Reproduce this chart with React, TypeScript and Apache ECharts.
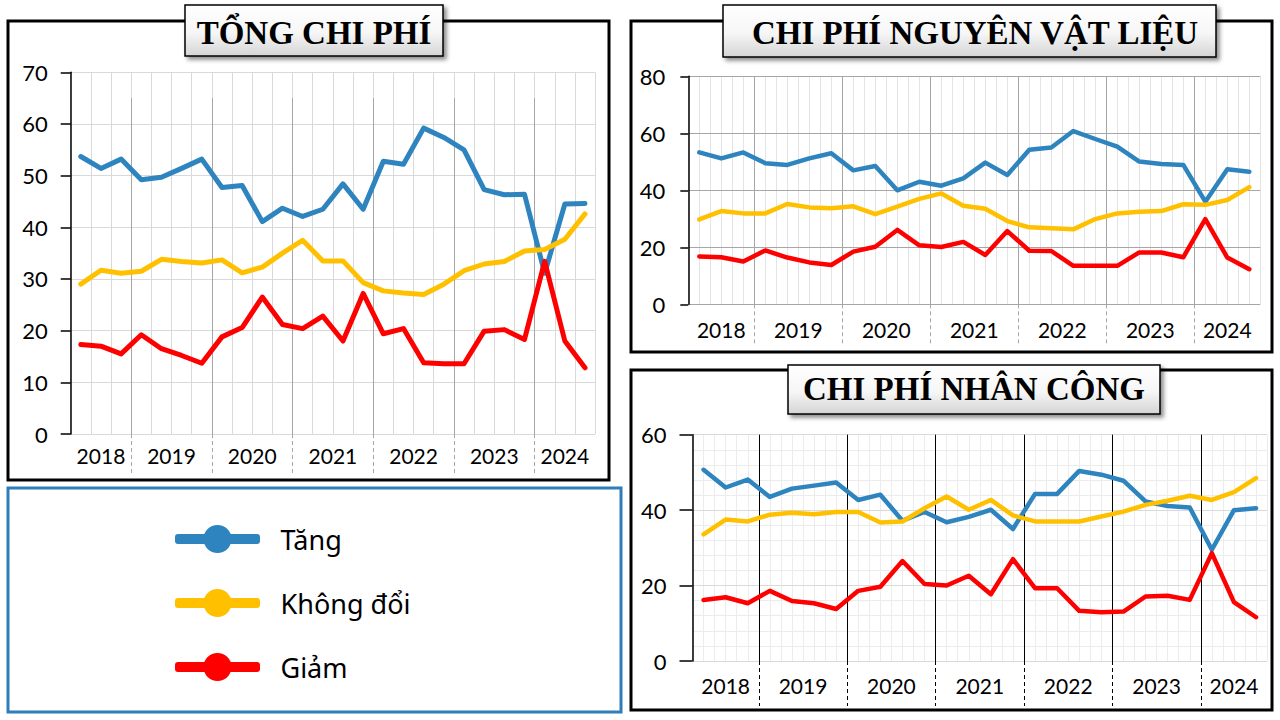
import React, { useEffect, useRef } from 'react';
import * as echarts from 'echarts';

const quarters = [
    'Q2/2018', 'Q3/2018', 'Q4/2018',
    'Q1/2019', 'Q2/2019', 'Q3/2019', 'Q4/2019',
    'Q1/2020', 'Q2/2020', 'Q3/2020', 'Q4/2020',
    'Q1/2021', 'Q2/2021', 'Q3/2021', 'Q4/2021',
    'Q1/2022', 'Q2/2022', 'Q3/2022', 'Q4/2022',
    'Q1/2023', 'Q2/2023', 'Q3/2023', 'Q4/2023',
    'Q1/2024', 'Q2/2024', 'Q3/2024'
];
const years = ['2018', '2019', '2020', '2021', '2022', '2023', '2024'];
const quartersPerYear = [3, 4, 4, 4, 4, 4, 3];
const seriesNames = ['Tăng', 'Không đổi', 'Giảm'];

// Tổng chi phí (%)
const tongTang = [53.7, 51.4, 53.2, 49.2, 49.7, 51.4, 53.2, 47.7, 48.1, 41.1, 43.7, 42.1, 43.5, 48.4, 43.5, 52.8, 52.2, 59.2, 57.4, 55.0, 47.3, 46.3, 46.4, 31.1, 44.5, 44.6];
const tongKhongDoi = [29.0, 31.7, 31.1, 31.5, 33.8, 33.4, 33.1, 33.7, 31.2, 32.3, 35.0, 37.5, 33.5, 33.5, 29.3, 27.7, 27.3, 27.0, 29.0, 31.6, 32.9, 33.4, 35.4, 35.7, 37.7, 42.6];
const tongGiam = [17.3, 17.0, 15.5, 19.2, 16.5, 15.2, 13.7, 18.8, 20.6, 26.5, 21.2, 20.4, 22.8, 18.0, 27.2, 19.4, 20.4, 13.8, 13.6, 13.6, 19.9, 20.2, 18.3, 33.4, 18.0, 12.8];

// Chi phí nguyên vật liệu (%)
const nvlTang = [53.3, 51.2, 53.3, 49.5, 48.9, 51.2, 53.0, 47.0, 48.5, 40.0, 43.0, 41.6, 44.2, 49.7, 45.4, 54.2, 55.0, 60.8, 58.0, 55.3, 50.1, 49.2, 48.9, 36.0, 47.4, 46.5];
const nvlKhongDoi = [29.8, 32.7, 31.9, 31.9, 35.2, 34.0, 33.7, 34.4, 31.6, 34.3, 37.0, 38.9, 34.6, 33.5, 29.2, 27.0, 26.7, 26.3, 29.9, 31.9, 32.5, 32.7, 35.1, 34.9, 36.6, 41.1];
const nvlGiam = [16.8, 16.5, 15.0, 18.9, 16.4, 14.7, 13.8, 18.5, 20.2, 26.1, 20.7, 20.1, 21.9, 17.3, 25.7, 18.8, 18.7, 13.5, 13.5, 13.5, 18.2, 18.2, 16.5, 29.9, 16.4, 12.3];

// Chi phí nhân công (%)
const ncTang = [50.7, 46.0, 48.1, 43.5, 45.7, 46.5, 47.3, 42.7, 44.1, 37.2, 39.5, 36.8, 38.2, 40.1, 35.0, 44.3, 44.3, 50.4, 49.4, 47.8, 42.3, 41.1, 40.7, 29.5, 40.0, 40.5];
const ncKhongDoi = [33.6, 37.5, 37.0, 38.8, 39.3, 38.9, 39.5, 39.5, 36.7, 37.0, 40.5, 43.6, 40.1, 42.7, 38.6, 37.0, 37.0, 37.0, 38.3, 39.6, 41.4, 42.5, 43.8, 42.7, 44.8, 48.5];
const ncGiam = [16.2, 16.9, 15.3, 18.6, 15.9, 15.3, 13.8, 18.6, 19.7, 26.5, 20.4, 20.0, 22.6, 17.7, 27.0, 19.3, 19.3, 13.3, 12.9, 13.1, 17.1, 17.3, 16.2, 28.6, 15.6, 11.6];

const colors = ['#2E84BE', '#FFC000', '#FF0000'];

// year boundaries / centres in "quarter units" (0..26)
const yearEdges: number[] = [];
const yearCenters: number[] = [];
let acc = 0;
quartersPerYear.forEach((n, i) => {
    yearCenters.push(acc + n / 2);
    acc += n;
    if (i < quartersPerYear.length - 1) yearEdges.push(acc);
});
const total = acc;

const panels = [
    {
        title: 'TỔNG CHI PHÍ',
        data: [tongTang, tongKhongDoi, tongGiam],
        box: { x: 8, y: 21, width: 601, height: 459 },
        titleBox: { x: 185, y: 5, width: 258, height: 51 },
        titleCenter: [314, 33],
        grid: { left: 70.7, top: 72.3, width: 524.4, height: 361.7 },
        yMax: 70, yStep: 10, yMinor: false,
        vStep: 1, vColor: '#d9d9d9', hColor: '#d9d9d9',
        sepColor: '#a6a6a6', sepInside: false, sepTop: 65, sepLen: 41,
        xLabelMargin: 11, yLabelMargin: 23, yTickLen: 10, lineWidth: 5
    },
    {
        title: 'CHI PHÍ NGUYÊN VẬT LIỆU',
        data: [nvlTang, nvlKhongDoi, nvlGiam],
        box: { x: 631, y: 21, width: 641, height: 331 },
        titleBox: { x: 723, y: 5, width: 493, height: 52 },
        titleCenter: [975, 33],
        grid: { left: 688.3, top: 76.3, width: 572, height: 228 },
        yMax: 80, yStep: 20, yMinor: false,
        vStep: 0.5, vColor: '#e4e4e4', hColor: '#a6a6a6',
        sepColor: '#a6a6a6', sepInside: true, sepTop: 0, sepLen: 42,
        xLabelMargin: 15, yLabelMargin: 23, yTickLen: 8, lineWidth: 4.5
    },
    {
        title: 'CHI PHÍ NHÂN CÔNG',
        data: [ncTang, ncKhongDoi, ncGiam],
        box: { x: 631, y: 370, width: 641, height: 340 },
        titleBox: { x: 788, y: 365, width: 372, height: 49 },
        titleCenter: [974, 389],
        grid: { left: 692.5, top: 434.7, width: 574.6, height: 226.3 },
        yMax: 60, yStep: 20, yMinor: true,
        vStep: 0.5, vColor: '#ececec', hColor: '#d9d9d9',
        sepColor: '#000000', sepInside: true, sepTop: 0, sepLen: 45,
        xLabelMargin: 14, yLabelMargin: 26, yTickLen: 13, lineWidth: 4.5
    }
];

const numFont = 'Lato, "DejaVu Sans", sans-serif';
const legendIcon =
    'path://M3,10 H82 A3,3 0 0 1 85,13 V17 A3,3 0 0 1 82,20 H3 A3,3 0 0 1 0,17 V13 A3,3 0 0 1 3,10 Z ' +
    'M28.5,15 A14,14 0 1 1 56.5,15 A14,14 0 1 1 28.5,15 Z';

const yearLabel = (v: number) => {
    const i = yearCenters.findIndex(c => Math.abs(c - v) < 1e-6);
    return i >= 0 ? years[i] : '';
};

export default function App() {
    const chartRef = useRef<HTMLDivElement>(null);

    useEffect(() => {
        if (!chartRef.current) return;
        const chart = echarts.init(chartRef.current, undefined, { renderer: 'svg' });

        const grids: any[] = [];
        const xAxes: any[] = [];
        const yAxes: any[] = [];
        const series: any[] = [];
        const graphics: any[] = [];

        panels.forEach((p, pi) => {
            grids.push({ ...p.grid, containLabel: false });

            // category axis carrying the series
            xAxes.push({
                type: 'category', gridIndex: pi, data: quarters, boundaryGap: true,
                axisLine: { show: false }, axisTick: { show: false }, axisLabel: { show: false },
                splitLine: { show: false }, z: 0
            });
            // year axis: labels, dashed separators below, solid separators inside
            xAxes.push({
                type: 'value', gridIndex: pi, position: 'bottom', min: 0, max: total, interval: 1,
                axisLine: { show: false },
                axisTick: {
                    show: true, customValues: yearEdges, length: p.sepLen,
                    lineStyle: { color: p.sepColor, width: 1, type: [4, 3] }
                },
                axisLabel: {
                    customValues: yearCenters, formatter: yearLabel, margin: p.xLabelMargin,
                    fontSize: 21, color: '#000', fontFamily: numFont
                },
                splitLine: { show: p.sepInside, lineStyle: { color: p.sepColor, width: 1 } },
                z: 2
            });
            // light vertical grid
            xAxes.push({
                type: 'value', gridIndex: pi, position: 'bottom', min: 0, max: total, interval: p.vStep,
                axisLine: { show: false }, axisTick: { show: false }, axisLabel: { show: false },
                splitLine: { show: true, lineStyle: { color: p.vColor, width: 1 } },
                z: 0
            });

            yAxes.push({
                type: 'value', gridIndex: pi, min: 0, max: p.yMax, interval: p.yStep,
                axisLine: { show: true, lineStyle: { color: '#000', width: 1.5 } },
                axisTick: { show: true, length: p.yTickLen, lineStyle: { color: '#000', width: 1.5 } },
                axisLabel: { margin: p.yLabelMargin, fontSize: 22, color: '#000', fontFamily: numFont },
                splitLine: { show: true, lineStyle: { color: p.hColor, width: 1 } },
                minorTick: { show: false, splitNumber: 5 },
                minorSplitLine: { show: p.yMinor, lineStyle: { color: '#ececec', width: 1 } },
                z: 1
            });

            if (!p.sepInside) {
                series.push({
                    type: 'lines', coordinateSystem: 'cartesian2d',
                    xAxisIndex: pi * 3 + 1, yAxisIndex: pi, silent: true, z: 1,
                    lineStyle: { color: p.sepColor, width: 1, opacity: 1 },
                    data: yearEdges.map(e => ({ coords: [[e, p.sepTop], [e, 0]] }))
                });
            }

            p.data.forEach((values, si) => {
                series.push({
                    type: 'line', name: seriesNames[si],
                    xAxisIndex: pi * 3, yAxisIndex: pi,
                    data: values, symbol: 'circle', showSymbol: false, smooth: false,
                    lineStyle: { width: p.lineWidth, color: colors[si], cap: 'round', join: 'round' },
                    itemStyle: { color: colors[si] },
                    emphasis: { disabled: true }, z: 3 + si
                });
            });

            graphics.push({
                type: 'rect', silent: true, z: 1,
                shape: { ...p.box },
                style: { fill: 'none', stroke: '#000', lineWidth: 3 }
            });
            graphics.push({
                type: 'rect', silent: true, z: 20,
                shape: { ...p.titleBox },
                style: {
                    fill: new echarts.graphic.LinearGradient(0, 0, 0, 1, [
                        { offset: 0, color: '#ffffff' },
                        { offset: 0.55, color: '#f6f6f6' },
                        { offset: 1, color: '#d4d4d4' }
                    ]),
                    stroke: '#000', lineWidth: 1.5,
                    shadowBlur: 4, shadowOffsetX: 3, shadowOffsetY: 3, shadowColor: 'rgba(0,0,0,0.45)'
                }
            });
            graphics.push({
                type: 'text', silent: true, z: 21,
                x: p.titleCenter[0], y: p.titleCenter[1],
                style: {
                    text: p.title, fill: '#000', align: 'center', verticalAlign: 'middle',
                    font: 'bold 33px "Liberation Serif", "Times New Roman", serif'
                }
            });
        });

        // legend frame
        graphics.push({
            type: 'rect', silent: true, z: 1,
            shape: { x: 8, y: 488, width: 613, height: 224 },
            style: { fill: 'none', stroke: '#2E7DB8', lineWidth: 3 }
        });

        chart.setOption({
            animation: false,
            grid: grids,
            xAxis: xAxes,
            yAxis: yAxes,
            series,
            legend: {
                data: seriesNames, orient: 'vertical', left: 170, top: 520,
                itemWidth: 86, itemHeight: 28, itemGap: 36, icon: legendIcon,
                itemStyle: { borderWidth: 0 },
                selectedMode: false,
                textStyle: { fontSize: 27, color: '#000', fontFamily: '"Noto Sans", sans-serif', padding: [0, 0, 0, 15] }
            },
            graphic: graphics
        });

        return () => chart.dispose();
    }, []);

    return (
        <div
            ref={chartRef}
            style={{ position: 'fixed', left: 0, top: 0, width: 1280, height: 720, background: '#fff' }}
        />
    );
}
